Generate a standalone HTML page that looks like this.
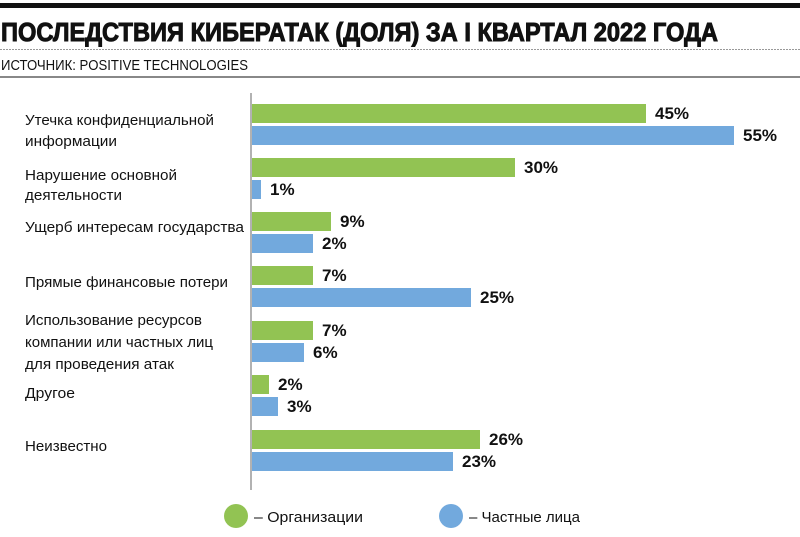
<!DOCTYPE html>
<html><head><meta charset="utf-8"><style>
html,body{margin:0;padding:0;background:#fff;width:800px;height:537px;overflow:hidden}
svg{display:block}
.c{font-family:"Liberation Sans",sans-serif;font-size:15px;fill:#111}
.v{font-family:"Liberation Sans",sans-serif;font-size:17px;font-weight:bold;fill:#111}
</style></head><body>
<svg width="800" height="537" viewBox="0 0 800 537">
<rect x="0" y="3" width="800" height="5" fill="#111"/>
<text x="1" y="41" font-family="Liberation Sans,sans-serif" font-weight="bold" font-size="26" textLength="717" lengthAdjust="spacingAndGlyphs" fill="#111" stroke="#111" stroke-width="1">ПОСЛЕДСТВИЯ КИБЕРАТАК (ДОЛЯ) ЗА I КВАРТАЛ 2022 ГОДА</text>
<line x1="0" y1="49.5" x2="800" y2="49.5" stroke="#999" stroke-dasharray="2,1"/>
<text x="1" y="70" class="c" textLength="247" lengthAdjust="spacingAndGlyphs">ИСТОЧНИК: POSITIVE TECHNOLOGIES</text>
<rect x="0" y="76" width="800" height="2" fill="#888"/>
<line x1="251" y1="93" x2="251" y2="490" stroke="#999" stroke-width="1.5"/>
<g class="c">
<text x="25" y="125" textLength="189" lengthAdjust="spacingAndGlyphs">Утечка конфиденциальной</text>
<text x="25" y="146" textLength="92" lengthAdjust="spacingAndGlyphs">информации</text>
<text x="25" y="180" textLength="152" lengthAdjust="spacingAndGlyphs">Нарушение основной</text>
<text x="25" y="200" textLength="97" lengthAdjust="spacingAndGlyphs">деятельности</text>
<text x="25" y="232" textLength="219" lengthAdjust="spacingAndGlyphs">Ущерб интересам государства</text>
<text x="25" y="287" textLength="203" lengthAdjust="spacingAndGlyphs">Прямые финансовые потери</text>
<text x="25" y="325" textLength="177" lengthAdjust="spacingAndGlyphs">Использование ресурсов</text>
<text x="25" y="347" textLength="188" lengthAdjust="spacingAndGlyphs">компании или частных лиц</text>
<text x="25" y="369" textLength="149" lengthAdjust="spacingAndGlyphs">для проведения атак</text>
<text x="25" y="398" textLength="50" lengthAdjust="spacingAndGlyphs">Другое</text>
<text x="25" y="451" textLength="82" lengthAdjust="spacingAndGlyphs">Неизвестно</text>
</g>
<g>
<rect x="252" y="104" width="394" height="19" fill="#92c353"/>
<rect x="252" y="126" width="482" height="19" fill="#72a9dd"/>
<rect x="252" y="158" width="263" height="19" fill="#92c353"/>
<rect x="252" y="180" width="9" height="19" fill="#72a9dd"/>
<rect x="252" y="212" width="79" height="19" fill="#92c353"/>
<rect x="252" y="234" width="61" height="19" fill="#72a9dd"/>
<rect x="252" y="266" width="61" height="19" fill="#92c353"/>
<rect x="252" y="288" width="219" height="19" fill="#72a9dd"/>
<rect x="252" y="321" width="61" height="19" fill="#92c353"/>
<rect x="252" y="343" width="52" height="19" fill="#72a9dd"/>
<rect x="252" y="375" width="17" height="19" fill="#92c353"/>
<rect x="252" y="397" width="26" height="19" fill="#72a9dd"/>
<rect x="252" y="430" width="228" height="19" fill="#92c353"/>
<rect x="252" y="452" width="201" height="19" fill="#72a9dd"/>
</g>
<g class="v">
<text x="655" y="119">45%</text>
<text x="743" y="141">55%</text>
<text x="524" y="173">30%</text>
<text x="270" y="195">1%</text>
<text x="340" y="227">9%</text>
<text x="322" y="249">2%</text>
<text x="322" y="281">7%</text>
<text x="480" y="303">25%</text>
<text x="322" y="336">7%</text>
<text x="313" y="358">6%</text>
<text x="278" y="390">2%</text>
<text x="287" y="412">3%</text>
<text x="489" y="445">26%</text>
<text x="462" y="467">23%</text>
</g>
<circle cx="236" cy="516" r="12" fill="#92c353"/>
<text x="254" y="522" class="c" textLength="109" lengthAdjust="spacingAndGlyphs">– Организации</text>
<circle cx="451" cy="516" r="12" fill="#72a9dd"/>
<text x="469" y="522" class="c" textLength="111" lengthAdjust="spacingAndGlyphs">– Частные лица</text>
</svg>
</body></html>
